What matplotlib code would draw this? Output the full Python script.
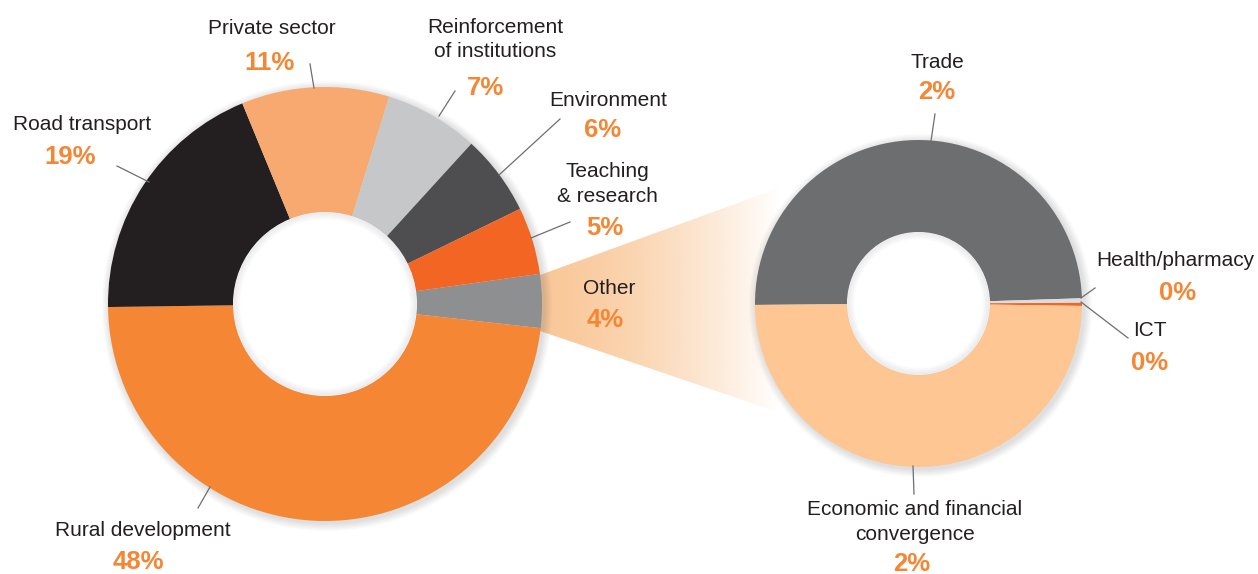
import matplotlib
matplotlib.use('Agg')
import matplotlib.pyplot as plt
import numpy as np
from matplotlib.patches import Polygon, Circle

plt.rcParams['font.family'] = ['Liberation Sans', 'DejaVu Sans']

# ---- data ----
main_labels = ['Other', 'Rural development', 'Road transport', 'Private sector',
               'Reinforcement\nof institutions', 'Environment', 'Teaching\n& research']
main_values = [4, 48, 19, 11, 7, 6, 5]
main_colors = ['#8e8f91', '#f58634', '#231f20', '#f8a970', '#c6c7c9', '#4e4e50', '#f26522']

other_labels = ['Trade', 'Health/pharmacy', 'ICT', 'Economic and financial\nconvergence']
other_values = [1.985, 0.018, 0.012, 1.985]
other_colors = ['#6d6e70', '#dcdddf', '#f26522', '#fdc692']

PCT_COLOR = '#f58634'
W, H = 1258, 574

fig = plt.figure(figsize=(W / 100, H / 100), dpi=100)
ax = fig.add_axes([0, 0, 1, 1])

def Y(y):
    return H - y

# geometry (pixels)
c1, R1, r1 = (325, Y(304)), 217, 91.5
c2, R2, r2 = (918.5, Y(303.5)), 163.5, 71

# gradient connector
poly = Polygon([(540, Y(275)), (790, Y(184)), (790, Y(416)), (540, Y(331))],
               closed=True, fc='none', ec='none')
ax.add_patch(poly)
grad = np.zeros((2, 300, 4))
xs = np.linspace(0, 1, 300)
grad[..., 0] = 248 / 255
grad[..., 1] = 184 / 255
grad[..., 2] = 124 / 255
grad[..., 3] = np.clip(0.78 * (1 - xs ** 1.5), 0, 1)
im = ax.imshow(grad, extent=(540, 780, Y(420), Y(180)), aspect='auto',
               interpolation='bilinear', zorder=1)
im.set_clip_path(poly)

# soft outer shadows
for c, R in [(c1, R1), (c2, R2)]:
    for k in range(1, 9):
        ax.add_patch(Circle((c[0] + 2, c[1] - 2), R + k, fc=(0.35, 0.35, 0.4),
                            ec='none', alpha=0.022, zorder=1.5))

# donuts
ax.pie(main_values, colors=main_colors, startangle=8, counterclock=False,
       radius=R1, center=c1, wedgeprops=dict(width=R1 - r1, linewidth=0, zorder=2),
       frame=False)
ax.pie(other_values, colors=other_colors, startangle=180.5, counterclock=False,
       radius=R2, center=c2, wedgeprops=dict(width=R2 - r2, linewidth=0, zorder=2),
       frame=False)

# white holes with inner shadow
for c, r in [(c1, r1), (c2, r2)]:
    ax.add_patch(Circle(c, r + 0.5, fc='white', ec='none', zorder=2.5))
    for k in range(8):
        ax.add_patch(Circle(c, r - k * 0.9, fill=False, lw=1.2,
                            ec=(0.45, 0.45, 0.5), alpha=0.08 * (1 - k / 8), zorder=3))

ax.set_xlim(0, W)
ax.set_ylim(0, H)
ax.set_aspect('equal')
ax.axis('off')

# labels: (name position, pct position, leader line)
main_pos = {
    'Other': ((609, 289), (605, 320), None),
    'Rural development': ((143, 531), (138, 562), ((198, 508), (210, 487))),
    'Road transport': ((82, 125), (70, 157), ((117, 166), (149, 182))),
    'Private sector': ((272, 28), (270, 63), ((310, 64), (314, 88))),
    'Reinforcement\nof institutions': ((495, 39.5), (485, 88), ((455, 91), (439, 116))),
    'Environment': ((608, 101), (603, 130), ((560, 119), (499, 175))),
    'Teaching\n& research': ((607, 184), (605, 228), ((570, 222), (531, 238))),
}
other_pos = {
    'Trade': ((937, 62), (937, 92), ((935, 114), (931, 141))),
    'Health/pharmacy': ((1175, 261), (1178, 293), ((1095, 288), (1081, 298))),
    'ICT': ((1150, 331), (1150, 363), ((1128, 338), (1081, 302))),
    'Economic and financial\nconvergence': ((915, 522), (912, 564), ((913, 466), (914, 494))),
}

def put(label, val_text, pos):
    (nx, ny), (px, py), line = pos
    ax.text(nx, Y(ny), label, ha='center', va='center', fontsize=15,
            color='#231f20', linespacing=1.38, zorder=5)
    ax.text(px, Y(py), val_text, ha='center', va='center', fontsize=18.5,
            fontweight='bold', color=PCT_COLOR, zorder=5)
    if line is not None:
        (x0, y0), (x1, y1) = line
        ax.plot([x0, x1], [Y(y0), Y(y1)], color='#6d6e70', lw=0.9, zorder=4)

for lab, v in zip(main_labels, main_values):
    put(lab, f'{v}%', main_pos[lab])
for lab, v in zip(other_labels, other_values):
    put(lab, f'{round(v)}%', other_pos[lab])

fig.savefig('out.png', dpi=100)
